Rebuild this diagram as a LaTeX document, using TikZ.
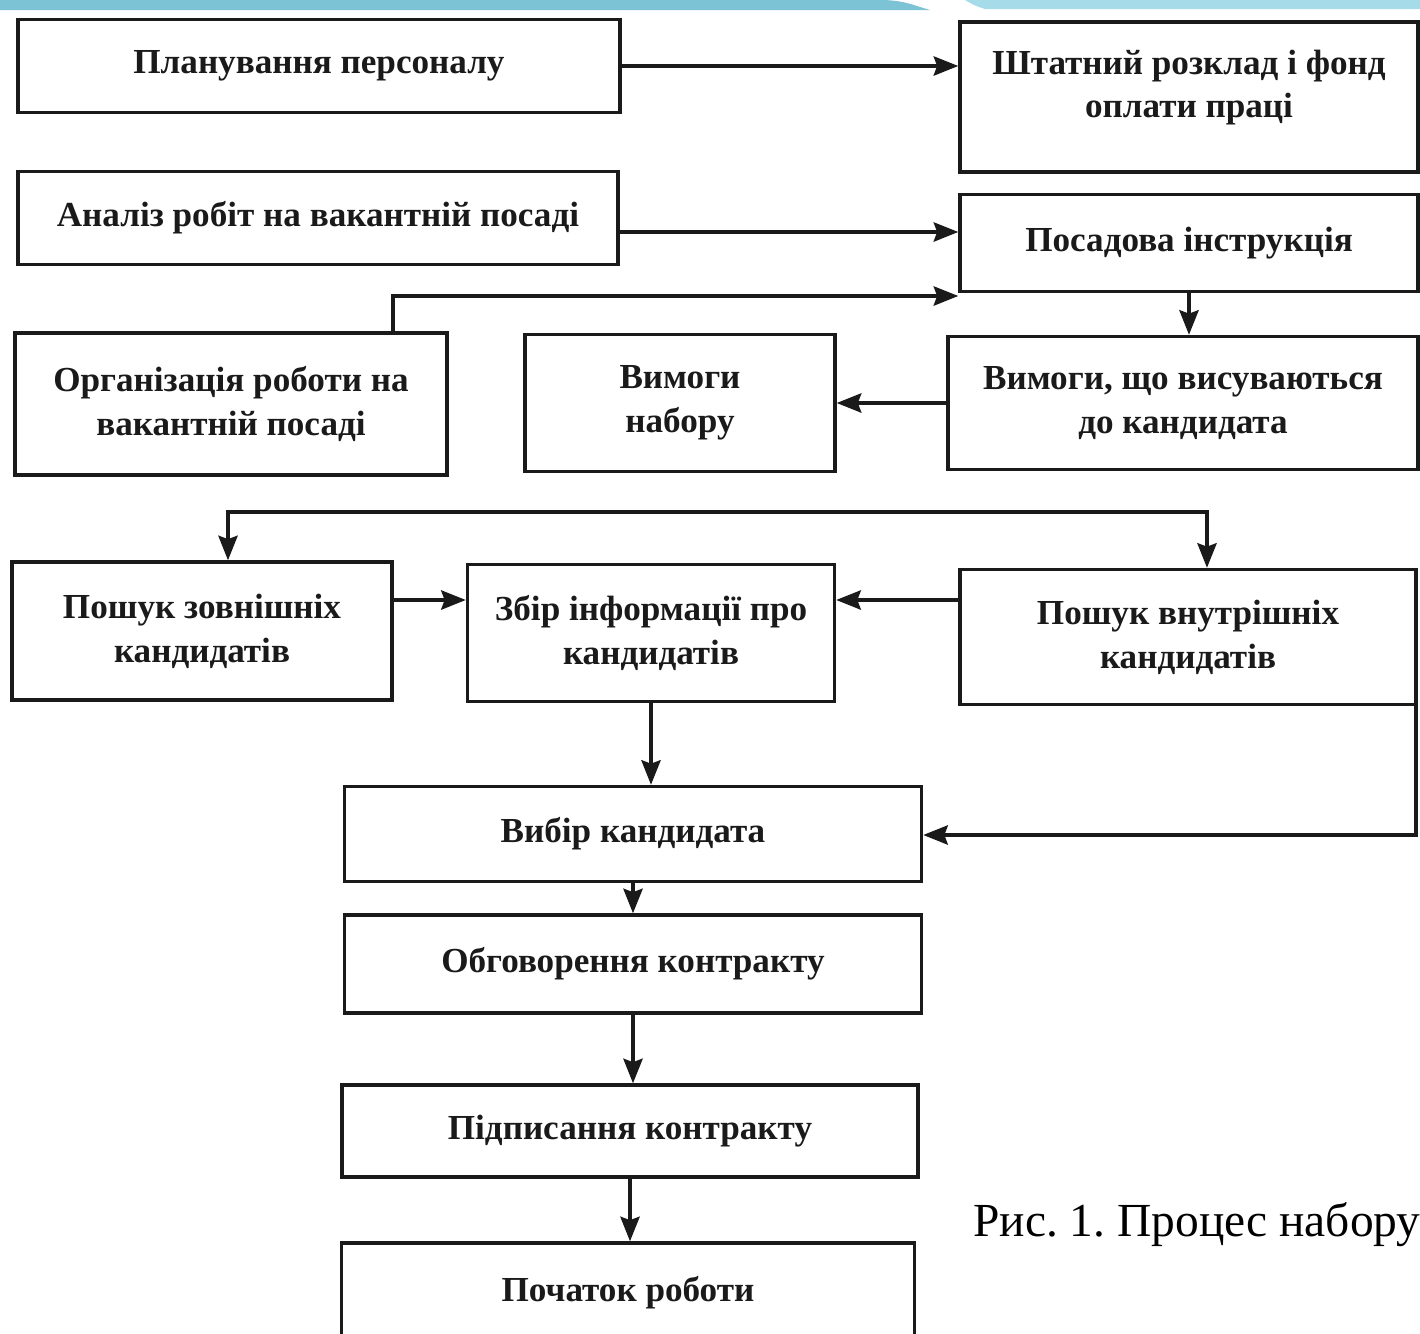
\documentclass[tikz,border=0pt]{standalone}
\usepackage{fontspec}
\setmainfont{Liberation Serif}
\usetikzlibrary{arrows.meta}
\definecolor{bandL}{HTML}{7CC3D6}
\definecolor{bandR}{HTML}{A6DCEA}
\definecolor{ink}{HTML}{1A1A1A}
\frenchspacing
\begin{document}
\begin{tikzpicture}[x=0.02cm,y=-0.02cm,
  box/.style={draw=ink,line width=2pt,inner sep=0pt,align=center,
    font=\fontsize{20}{25}\selectfont\bfseries,text=ink},
  sz/.style 2 args={minimum width=#1*0.02cm,minimum height=#2*0.02cm},
  conn/.style={draw=ink,line width=1.8pt},
  arr/.style={conn,-{Stealth[length=14pt,width=11pt,inset=2pt]}},
  arrb/.style={conn,{Stealth[length=14pt,width=11pt,inset=2pt]}-{Stealth[length=14pt,width=11pt,inset=2pt]}}]
\useasboundingbox (0,0) rectangle (1420,1333);
\fill[white] (0,0) rectangle (1420,1333);
% top band
\fill[bandL] (0,0) -- (880,0) .. controls (905,0) and (915,6) .. (930,10) -- (0,10) -- cycle;
\fill[bandR] (965,0) -- (1420,0) -- (1420,9) -- (985,9) .. controls (975,6) and (970,3) .. (965,0) -- cycle;

\node[box,sz={602}{93}] (b1) at (319,66) {Планування персоналу};
\node[box,sz={458}{150}] (b2) at (1189,97) {Штатний розклад і фонд\\оплати праці\\[-10pt]\mbox{}};
\node[box,sz={600}{93}] (b3) at (318,218) {Аналіз робіт на вакантній посаді};
\node[box,sz={458}{97}] (b4) at (1189,243) {Посадова інструкція};
\node[box,sz={432}{142}] (b5) at (231,404) {Організація роботи на\\вакантній посаді};
\node[box,sz={310}{137}] (b6) at (680,403) {Вимоги\\набору};
\node[box,sz={470}{133}] (b7) at (1183,403) {Вимоги, що висуваються\\до кандидата};
\node[box,sz={380}{138}] (b8) at (202,631) {Пошук зовнішніх\\кандидатів};
\node[box,sz={367}{137}] (b9) at (651,633) {Збір інформації про\\кандидатів};
\node[box,sz={456}{135}] (b10) at (1188,637) {Пошук внутрішніх\\кандидатів};
\node[box,sz={577}{95}] (b11) at (633,834) {Вибір кандидата};
\node[box,sz={577}{98}] (b12) at (633,964) {Обговорення контракту};
\node[box,sz={576}{92}] (b13) at (630,1131) {Підписання контракту};
\node[box,sz={573}{100}] (b14) at (628,1293) {Початок роботи};

\node[anchor=base west,inner sep=0pt,font=\fontsize{27}{31}\selectfont,text=black] (cap) at (973,1236) {Рис. 1. Процес набору};

% coordinates for levels
\coordinate (y2) at (0,232);
\coordinate (o5) at (393,296);
\coordinate (y7) at (0,600);
\coordinate (sL) at (228,512);
\coordinate (sR) at (1207,512);
\coordinate (r10) at (1416,835);

\draw[arr] (b1.east) -- (b1.east -| b2.west);
\draw[arr] (b3.east |- y2) -- (b2.west |- y2);
\draw[arr] (o5 |- b5.north) -- (o5) -- (o5 -| b4.west);
\draw[arr] (b4.south) -- (b7.north -| b4.south);
\draw[arr] (b7.west) -- (b7.west -| b6.east);
\draw[arrb] (sL |- b8.north) -- (sL) -- (sR) -- (sR |- b10.north);
\draw[arr] (b8.east |- y7) -- (b9.west |- y7);
\draw[arr] (b10.west |- y7) -- (b9.east |- y7);
\draw[arr] (b9.south) -- (b9.south |- b11.north);
\draw[arr] (r10 |- b10.south) -- (r10) -- (r10 -| b11.east);
\draw[arr] (b11.south) -- (b11.south |- b12.north);
\draw[arr] (b12.south) -- (b12.south |- b13.north);
\draw[arr] (b13.south) -- (b13.south |- b14.north);
\end{tikzpicture}
\end{document}
